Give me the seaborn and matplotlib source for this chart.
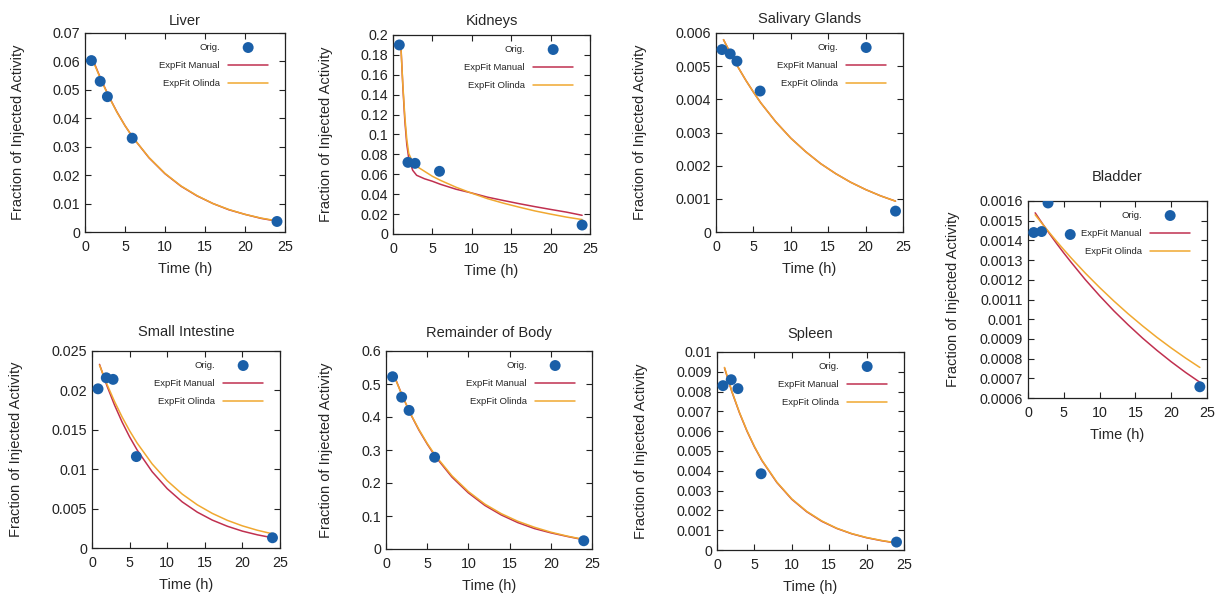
## load packages
import numpy as np
import matplotlib
matplotlib.use("Agg")
import matplotlib.pyplot as plt
from matplotlib.transforms import offset_copy
import seaborn as sns

## data
t_obs = [0.8, 1.9, 2.8, 5.9, 24]
t_fit = [1, 2, 3, 4, 5, 6, 8, 10, 12, 14, 16, 18, 20, 22, 24]
t_fit_kidneys = [1, 1.25, 1.5, 1.75, 2, 2.5, 3, 4, 5, 6, 8, 10, 12, 14, 16, 18, 20, 22, 24]

liver_obs = [0.0603, 0.0530, 0.0476, 0.0330, 0.0037]
liver_manual = [0.0605, 0.0537, 0.0476, 0.0422, 0.0374, 0.0332, 0.0261, 0.0205,
                0.0161, 0.0127, 0.0100, 0.0078, 0.0062, 0.0048, 0.0038]
liver_olinda = [0.0602, 0.0535, 0.0475, 0.0421, 0.0374, 0.0332, 0.0262, 0.0206,
                0.0162, 0.0128, 0.0100, 0.0079, 0.0062, 0.0049, 0.0039]

kidneys_obs = [0.190, 0.072, 0.071, 0.063, 0.009]
kidneys_manual = [0.190, 0.148, 0.114, 0.090, 0.076, 0.064, 0.059, 0.0555, 0.053, 0.050,
                  0.045, 0.0412, 0.037, 0.0337, 0.0305, 0.0275, 0.0247, 0.022, 0.0188]
kidneys_olinda = [0.188, 0.150, 0.118, 0.095, 0.081, 0.072, 0.068, 0.063, 0.058, 0.054,
                  0.047, 0.041, 0.0355, 0.031, 0.027, 0.0232, 0.020, 0.017, 0.0145]

salivary_obs = [0.00550, 0.00537, 0.00515, 0.00425, 0.00063]
salivary_manual = [0.00580, 0.00536, 0.00495, 0.00457, 0.00422, 0.00389, 0.00332, 0.00283,
                   0.00242, 0.00206, 0.00176, 0.00150, 0.00128, 0.00109, 0.00093]
salivary_olinda = [0.00580, 0.00536, 0.00495, 0.00457, 0.00422, 0.00389, 0.00332, 0.00283,
                   0.00242, 0.00206, 0.00176, 0.00150, 0.00128, 0.00109, 0.00093]

bladder_obs = [0.00144, 0.001445, 0.00159, 0.00143, 0.000657]
bladder_manual = [0.001540, 0.001486, 0.001434, 0.001384, 0.001336, 0.001290, 0.001201,
                  0.001119, 0.001042, 0.000971, 0.000904, 0.000842, 0.000784, 0.000730, 0.000680]
bladder_olinda = [0.001530, 0.001484, 0.001439, 0.001395, 0.001353, 0.001312, 0.001234,
                  0.001161, 0.001092, 0.001027, 0.000966, 0.000908, 0.000854, 0.000803, 0.000755]

intestine_obs = [0.0202, 0.0216, 0.0214, 0.0116, 0.0013]
intestine_manual = [0.02330, 0.02055, 0.01813, 0.01599, 0.01410, 0.01244, 0.00968, 0.00753,
                    0.00585, 0.00455, 0.00354, 0.00276, 0.00214, 0.00167, 0.00130]
intestine_olinda = [0.02320, 0.02076, 0.01858, 0.01663, 0.01488, 0.01332, 0.01067, 0.00854,
                    0.00684, 0.00548, 0.00439, 0.00351, 0.00281, 0.00225, 0.00180]

body_obs = [0.522, 0.460, 0.420, 0.278, 0.025]
body_manual = [0.525, 0.463, 0.408, 0.360, 0.318, 0.280, 0.218, 0.170,
               0.132, 0.103, 0.080, 0.062, 0.049, 0.038, 0.028]
body_olinda = [0.523, 0.463, 0.409, 0.362, 0.320, 0.283, 0.222, 0.174,
               0.136, 0.107, 0.084, 0.066, 0.051, 0.039, 0.029]

spleen_obs = [0.0083, 0.0086, 0.00815, 0.00385, 0.0004]
spleen_manual = [0.00920, 0.00798, 0.00693, 0.00601, 0.00521, 0.00452, 0.00341, 0.00256,
                 0.00193, 0.00145, 0.00109, 0.00082, 0.00062, 0.00047, 0.00035]
spleen_olinda = [0.00922, 0.00800, 0.00695, 0.00603, 0.00523, 0.00454, 0.00343, 0.00258,
                 0.00195, 0.00147, 0.00110, 0.00083, 0.00063, 0.00048, 0.00036]

titles = ["Liver", "Kidneys", "Salivary Glands", "Bladder",
          "Small Intestine", "Remainder of Body", "Spleen"]
y_low = [0, 0, 0, 0.0006, 0, 0, 0]
y_high = [0.07, 0.2, 0.006, 0.0016, 0.025, 0.6, 0.01]
y_step = [0.01, 0.02, 0.001, 0.0001, 0.005, 0.1, 0.001]
x_ticks = [0, 5, 10, 15, 20, 25]

## colours
c_orig = "#1a5fa8"
c_manual = "#c0304f"
c_olinda = "#f0a830"

## set theme
sns.set_style("ticks")
plt.rcParams["font.family"] = ["Liberation Sans", "DejaVu Sans"]

W, H = 1216, 596
fig = plt.figure(figsize=(W / 100, H / 100), dpi=100)

# axes boxes in pixels: left, right, top, bottom, ylabel right edge, title pad
boxes = [
    (85, 285, 33, 232, 25, 8),
    (393, 590, 35, 234, 333, 10),
    (716, 903, 33, 232, 647, 10),
    (1028, 1207, 201, 398, 960, 20),
    (92, 280, 351, 548, 23, 15),
    (386, 592, 351, 549, 333, 14),
    (717, 904, 352, 550, 648, 14),
]

panels = [
    (t_fit, liver_obs, liver_manual, liver_olinda),
    (t_fit_kidneys, kidneys_obs, kidneys_manual, kidneys_olinda),
    (t_fit, salivary_obs, salivary_manual, salivary_olinda),
    (t_fit, bladder_obs, bladder_manual, bladder_olinda),
    (t_fit, intestine_obs, intestine_manual, intestine_olinda),
    (t_fit, body_obs, body_manual, body_olinda),
    (t_fit, spleen_obs, spleen_manual, spleen_olinda),
]

for i, (tf, obs, man, oli) in enumerate(panels):
    left, right, top, bottom, ylab_x, tpad = boxes[i]
    ax = fig.add_axes([left / W, 1 - bottom / H, (right - left) / W, (bottom - top) / H])

    sns.scatterplot(x=t_obs, y=obs, ax=ax, s=62, color=c_orig, edgecolor="none",
                    label="Orig.", zorder=4)
    sns.lineplot(x=tf, y=man, ax=ax, color=c_manual, lw=1.1, label="ExpFit Manual", zorder=2)
    sns.lineplot(x=tf, y=oli, ax=ax, color=c_olinda, lw=1.1, label="ExpFit Olinda", zorder=3)

    ax.set_xlim(0, 25)
    ax.set_ylim(y_low[i], y_high[i])
    ax.set_xticks(x_ticks)
    yt = np.arange(y_low[i], y_high[i] + y_step[i] / 2, y_step[i])
    ax.set_yticks(yt)
    ax.set_yticklabels([f"{round(v, 6):g}" for v in yt])

    ax.tick_params(direction="in", top=True, right=True, length=4.5, width=0.8,
                   labelsize=10.3, colors="#222222")
    ax.tick_params(axis="x", pad=5.5)
    ax.tick_params(axis="y", pad=3.6)
    for sp in ax.spines.values():
        sp.set_visible(True)
        sp.set_linewidth(0.9)
        sp.set_color("#222222")

    ax.set_title(titles[i], fontsize=10.5, pad=tpad * 0.72)
    ax.set_xlabel("Time (h)", fontsize=10.5, labelpad=6)
    ax.set_ylabel("Fraction of Injected Activity", fontsize=10.5)
    ax.yaxis.set_label_coords((ylab_x - left) / (right - left), 0.5)

    anchor = offset_copy(ax.transAxes, fig=fig, x=-17, y=-10, units="dots")
    ax.legend(loc="upper right", bbox_to_anchor=(1, 1), bbox_transform=anchor,
              frameon=False, markerfirst=False, fontsize=6.8, handlelength=4.2,
              handletextpad=0.9, labelspacing=0.95, borderpad=0, borderaxespad=0,
              scatterpoints=1)

plt.savefig("out.png", dpi=100)
plt.close()
